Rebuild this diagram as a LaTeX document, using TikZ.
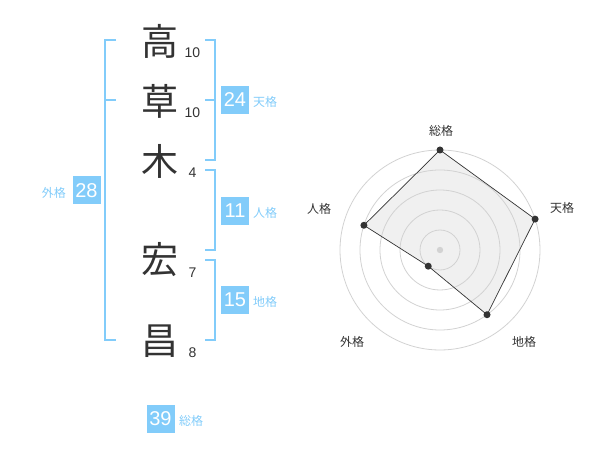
\documentclass[tikz,border=0pt]{standalone}
\usepackage{fontspec}
\setmainfont{Liberation Sans}
\newfontfamily\cjk{Noto Sans CJK JP}
\definecolor{accent}{RGB}{130,204,250}
\definecolor{ink}{RGB}{51,51,51}
\definecolor{ring}{RGB}{210,210,210}
\definecolor{area}{RGB}{240,240,240}
\begin{document}
\begin{tikzpicture}[x=1pt,y=-1pt,
  kanji/.style={font=\cjk\fontsize{37}{37}\selectfont, text=ink, inner sep=0pt},
  strokes/.style={font=\fontsize{14}{14}\selectfont, text=ink, inner sep=0pt},
  scorebox/.style={fill=accent, text=white, minimum width=28pt, minimum height=28pt, inner sep=0pt, font=\fontsize{20}{20}\selectfont},
  kaku/.style={font=\cjk\fontsize{12}{12}\selectfont, text=accent, inner sep=0pt},
  bracket/.style={draw=accent, line width=2pt},
  axislabel/.style={font=\cjk\fontsize{12}{12}\selectfont, text=ink, inner sep=0pt},
  dot/.style={circle, fill=ink, inner sep=0pt, minimum size=7pt}]
\useasboundingbox (0,0) rectangle (600,470);
% name characters
\node[kanji] (c1) at (160,41) {高};
\node[kanji] (c2) at (160,101) {草};
\node[kanji] (c3) at (160,161) {木};
\node[kanji] (c4) at (160,260) {宏};
\node[kanji] (c5) at (160,341) {昌};
% stroke counts
\node[strokes] (n1) at (192.5,53) {10};
\node[strokes] (n2) at (192.5,113) {10};
\node[strokes] (n3) at (192.5,173) {4};
\node[strokes] (n4) at (192.5,273) {7};
\node[strokes] (n5) at (192.5,353) {8};
% brackets
\draw[bracket] (116,40) -- (105,40) -- (105,340) -- (116,340);
\draw[bracket] (105,100) -- (116,100);
\draw[bracket] (205,40) -- (215,40) -- (215,160) -- (205,160);
\draw[bracket] (205,100) -- (215,100);
\draw[bracket] (205,170) -- (215,170) -- (215,250) -- (205,250);
\draw[bracket] (205,260) -- (215,260) -- (215,340) -- (205,340);
% score boxes
\node[scorebox] (b24) at (235,100) {24};
\node[kaku, anchor=west] (l24) at (253,102) {天格};
\node[scorebox] (b11) at (235,211) {11};
\node[kaku, anchor=west] (l11) at (253,213) {人格};
\node[scorebox] (b15) at (235,300) {15};
\node[kaku, anchor=west] (l15) at (253,302) {地格};
\node[scorebox] (b28) at (86.5,190.5) {28};
\node[kaku, anchor=east] (l28) at (66,192.5) {外格};
\node[scorebox] (b39) at (160.5,419) {39};
\node[kaku, anchor=west] (l39) at (179,421) {総格};
% radar chart
\begin{scope}[shift={(440,250)}, yscale=-1]
  \coordinate (pS) at (90:100);
  \coordinate (pT) at (18:100);
  \coordinate (pC) at (-54:80);
  \coordinate (pG) at (-126:20);
  \coordinate (pJ) at (162:80);
  \fill[area] (pS) -- (pT) -- (pC) -- (pG) -- (pJ) -- cycle;
  \foreach \r in {20,40,60,80,100} \draw[ring, line width=0.8pt] (0,0) circle (\r);
  \fill[ring] (0,0) circle (3.2);
  \draw[ink, line width=0.7pt] (pS) -- (pT) -- (pC) -- (pG) -- (pJ) -- cycle;
  \node[dot] (dS) at (pS) {};
  \node[dot] (dT) at (pT) {};
  \node[dot] (dC) at (pC) {};
  \node[dot] (dG) at (pG) {};
  \node[dot] (dJ) at (pJ) {};
\end{scope}
\node[axislabel] (aS) at (441,131) {総格};
\node[axislabel] (aT) at (562,208) {天格};
\node[axislabel] (aC) at (524,342) {地格};
\node[axislabel] (aG) at (352,342) {外格};
\node[axislabel] (aJ) at (319,209) {人格};
\end{tikzpicture}
\end{document}
